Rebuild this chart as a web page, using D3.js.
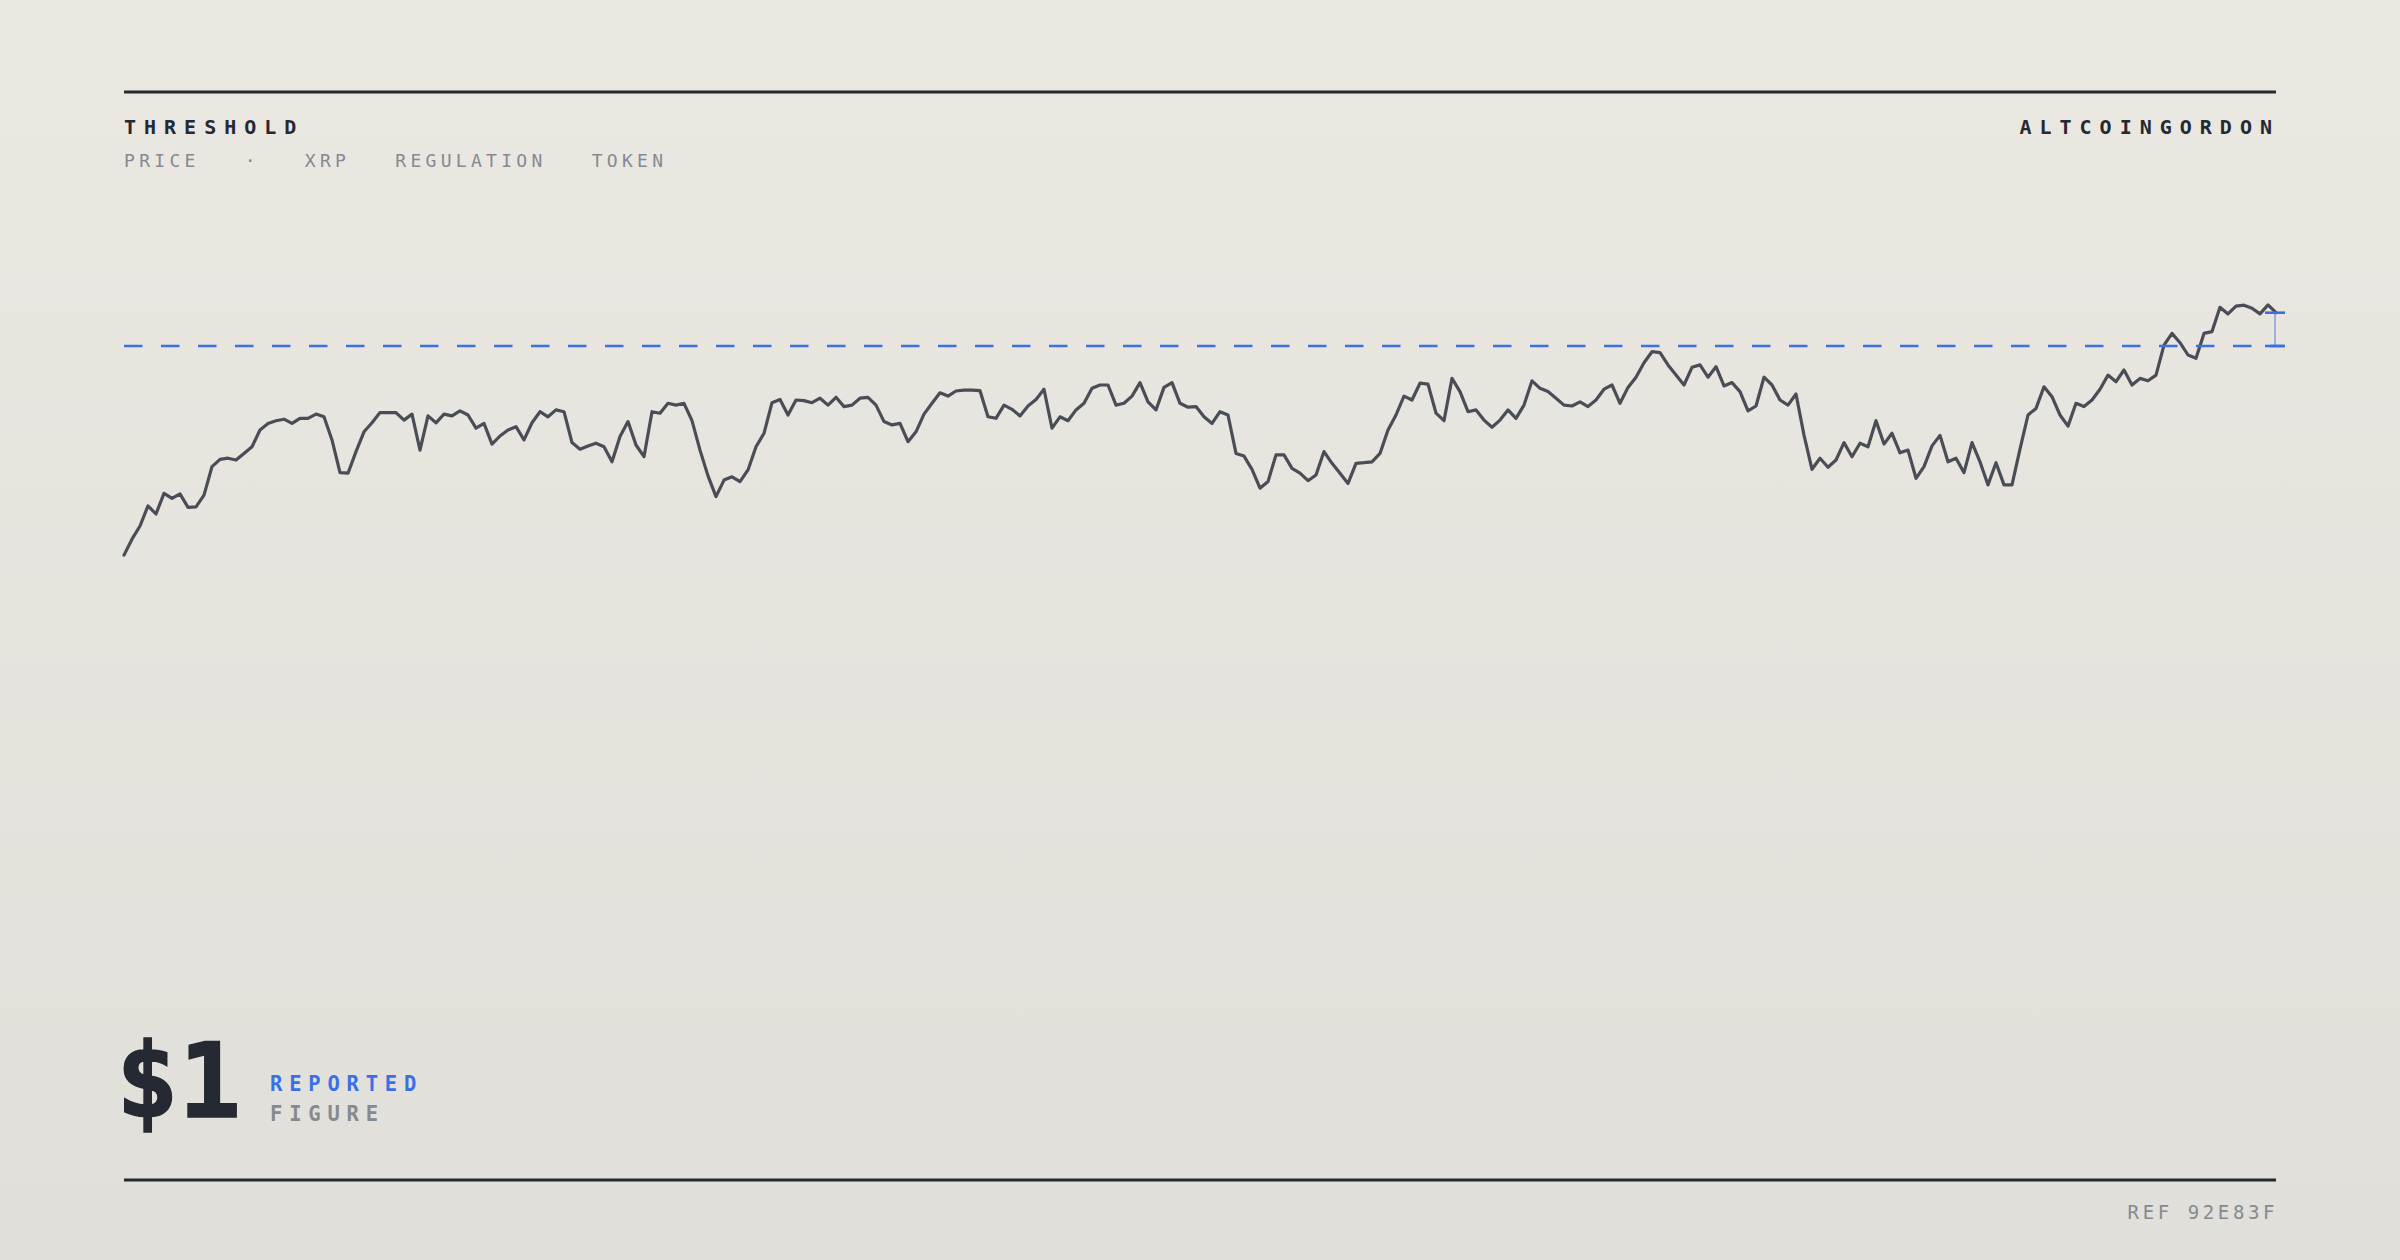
<!DOCTYPE html>
<html>
<head>
<meta charset="utf-8">
<script src="https://cdn.jsdelivr.net/npm/d3@7"></script>
<style>
    html, body { margin: 0; padding: 0; background: #e6e3dd; }
    svg { display: block; }
</style>
</head>
<body>
<div id="chart"></div>
<script>
const TITLE = "THRESHOLD";
const SOURCE = "ALTCOINGORDON";
const TAGS = ["PRICE", "·", "XRP", "REGULATION", "TOKEN"];
const FIGURE_VALUE = "$1";
const FIGURE_LABELS = ["REPORTED", "FIGURE"];
const REF_LABEL = "REF 92E83F";

// price in USD, one reading per step, oldest first
const THRESHOLD = 1.0;
const Y_DOMAIN = [0, 1.2];
const PRICES = [
    0.303, 0.356, 0.400, 0.467, 0.440, 0.509, 0.492, 0.507, 0.462, 0.464,
    0.503, 0.598, 0.622, 0.626, 0.620, 0.642, 0.664, 0.720, 0.742, 0.751,
    0.756, 0.742, 0.759, 0.759, 0.773, 0.764, 0.687, 0.578, 0.576, 0.648,
    0.714, 0.744, 0.778, 0.778, 0.778, 0.753, 0.773, 0.653, 0.767, 0.744,
    0.773, 0.767, 0.784, 0.770, 0.726, 0.742, 0.673, 0.700, 0.720, 0.731,
    0.687, 0.744, 0.781, 0.764, 0.787,
    0.781, 0.678, 0.656, 0.667, 0.676, 0.664, 0.614, 0.698, 0.748, 0.670,
    0.631, 0.781, 0.776, 0.809, 0.803, 0.809, 0.751, 0.653, 0.567, 0.498,
    0.553, 0.564, 0.548, 0.587, 0.664, 0.709, 0.811, 0.822, 0.770, 0.820,
    0.818, 0.811, 0.826, 0.803, 0.829, 0.798, 0.803, 0.826, 0.829, 0.803,
    0.748, 0.737, 0.742, 0.681, 0.714, 0.773, 0.809, 0.844, 0.833, 0.850,
    0.853, 0.853, 0.851, 0.764, 0.759,
    0.803, 0.789, 0.767, 0.800, 0.822, 0.856, 0.726, 0.764, 0.751, 0.787,
    0.809, 0.859, 0.870, 0.870, 0.803, 0.809, 0.833, 0.878, 0.814, 0.787,
    0.862, 0.878, 0.809, 0.796, 0.798, 0.764, 0.742, 0.781, 0.770, 0.642,
    0.633, 0.589, 0.526, 0.548, 0.637, 0.637, 0.592, 0.576, 0.551, 0.570,
    0.648, 0.609, 0.576, 0.542, 0.609, 0.611, 0.614, 0.642, 0.720, 0.770,
    0.833, 0.820, 0.876, 0.873, 0.776,
    0.751, 0.892, 0.848, 0.781, 0.787, 0.753, 0.729, 0.753, 0.787, 0.759,
    0.803, 0.884, 0.859, 0.848, 0.826, 0.803, 0.800, 0.814, 0.798, 0.820,
    0.856, 0.870, 0.809, 0.862, 0.896, 0.944, 0.981, 0.978, 0.937, 0.903,
    0.870, 0.929, 0.937, 0.896, 0.931, 0.867, 0.878, 0.848, 0.784, 0.800,
    0.896, 0.870, 0.820, 0.803, 0.840, 0.703, 0.589, 0.626, 0.596, 0.620,
    0.678, 0.631, 0.676, 0.664, 0.751,
    0.673, 0.709, 0.644, 0.653, 0.559, 0.598, 0.667, 0.702, 0.614, 0.626,
    0.578, 0.678, 0.614, 0.537, 0.611, 0.537, 0.537, 0.656, 0.770, 0.792,
    0.864, 0.831, 0.770, 0.733, 0.809, 0.798, 0.820, 0.856, 0.903, 0.881,
    0.920, 0.870, 0.892, 0.884, 0.903, 1.003, 1.042, 1.011, 0.970, 0.959,
    1.042, 1.048, 1.129, 1.107, 1.133, 1.136, 1.126, 1.107, 1.137, 1.111
];

const WIDTH = 2400, HEIGHT = 1260;
const LEFT = 124, RIGHT = 2276;
const INK = "#252932";
const MUTED = "#878990";
const BLUE = "#3a6fe6";
const MONO = "'DejaVu Sans Mono', 'Liberation Mono', monospace";

const x = d3.scaleLinear()
    .domain([0, PRICES.length - 1])
    .range([LEFT, RIGHT]);

const y = d3.scaleLinear()
    .domain(Y_DOMAIN)
    .range([646, 286]);

function appendToDom() {
    let svg = d3.select("#chart").append("svg")
        .attr("width", WIDTH)
        .attr("height", HEIGHT);

    let grad = svg.append("defs").append("linearGradient")
        .attr("id", "bg")
        .attr("x1", 0).attr("y1", 0)
        .attr("x2", 0).attr("y2", 1);
    grad.append("stop").attr("offset", "0%").attr("stop-color", "#ebe8e2");
    grad.append("stop").attr("offset", "100%").attr("stop-color", "#e1dfd9");

    svg.append("rect")
        .attr("width", WIDTH)
        .attr("height", HEIGHT)
        .attr("fill", "url(#bg)");
    return svg;
}

function drawFrame(svg) {
    // top and bottom rules
    [92, 1180].forEach(yy =>
        svg.append("line")
            .attr("x1", LEFT).attr("x2", RIGHT)
            .attr("y1", yy).attr("y2", yy)
            .attr("stroke", INK)
            .attr("stroke-width", 3)
    );

    svg.append("text")
        .attr("x", LEFT)
        .attr("y", 134)
        .attr("font-family", MONO)
        .attr("font-weight", 700)
        .attr("font-size", 20)
        .attr("letter-spacing", 8)
        .attr("fill", INK)
        .text(TITLE);

    svg.append("text")
        .attr("x", RIGHT + 4)
        .attr("y", 134)
        .attr("text-anchor", "end")
        .attr("font-family", MONO)
        .attr("font-weight", 700)
        .attr("font-size", 20)
        .attr("letter-spacing", 8)
        .attr("fill", INK)
        .text(SOURCE);

    // tags, spaced out one after the other
    let cursor = LEFT;
    TAGS.forEach(t => {
        let node = svg.append("text")
            .attr("x", cursor)
            .attr("y", 167)
            .attr("font-family", MONO)
            .attr("font-size", 18)
            .attr("letter-spacing", 4.3)
            .attr("fill", MUTED)
            .text(t);
        cursor += node.node().getComputedTextLength() + 45;
    });

    svg.append("text")
        .attr("x", RIGHT + 2)
        .attr("y", 1219)
        .attr("text-anchor", "end")
        .attr("font-family", MONO)
        .attr("font-size", 19)
        .attr("letter-spacing", 3.6)
        .attr("fill", MUTED)
        .text(REF_LABEL);
}

function drawFigure(svg) {
    svg.append("text")
        .attr("x", 116)
        .attr("y", 1117)
        .attr("font-family", MONO)
        .attr("font-weight", 700)
        .attr("font-size", 104)
        .attr("letter-spacing", 0)
        .attr("fill", INK)
        .attr("stroke", INK)
        .attr("stroke-width", 1.5)
        .text(FIGURE_VALUE);

    FIGURE_LABELS.forEach((lbl, i) =>
        svg.append("text")
            .attr("x", 270)
            .attr("y", 1091 + i * 30)
            .attr("font-family", MONO)
            .attr("font-weight", 700)
            .attr("font-size", 20.5)
            .attr("letter-spacing", 6.8)
            .attr("fill", i == 0 ? BLUE : MUTED)
            .text(lbl)
    );
}

function drawPrice(svg) {
    let line = d3.line()
        .x((d, i) => x(i))
        .y(d => y(d));

    svg.append("path")
        .datum(PRICES)
        .attr("d", line)
        .attr("fill", "none")
        .attr("stroke", "#4a4d56")
        .attr("stroke-width", 3.2)
        .attr("stroke-linejoin", "round")
        .attr("stroke-linecap", "round");
}

function drawThreshold(svg) {
    let ty = y(THRESHOLD);
    let last = PRICES[PRICES.length - 1];
    let lx = x(PRICES.length - 1) - 1;

    svg.append("line")
        .attr("x1", LEFT).attr("x2", RIGHT + 8)
        .attr("y1", ty).attr("y2", ty)
        .attr("stroke", BLUE)
        .attr("stroke-width", 2.6)
        .attr("stroke-dasharray", "18.5 18.5");

    // gap between last print and the threshold
    svg.append("line")
        .attr("x1", lx).attr("x2", lx)
        .attr("y1", y(last)).attr("y2", ty)
        .attr("stroke", BLUE)
        .attr("stroke-opacity", 0.6)
        .attr("stroke-width", 1.5);

    [y(last), ty].forEach(yy =>
        svg.append("line")
            .attr("x1", lx - 10).attr("x2", lx + 10)
            .attr("y1", yy).attr("y2", yy)
            .attr("stroke", BLUE)
            .attr("stroke-width", 2.6)
    );
}

const svg = appendToDom();
drawFrame(svg);
drawFigure(svg);
drawPrice(svg);
drawThreshold(svg);
</script>
</body>
</html>
